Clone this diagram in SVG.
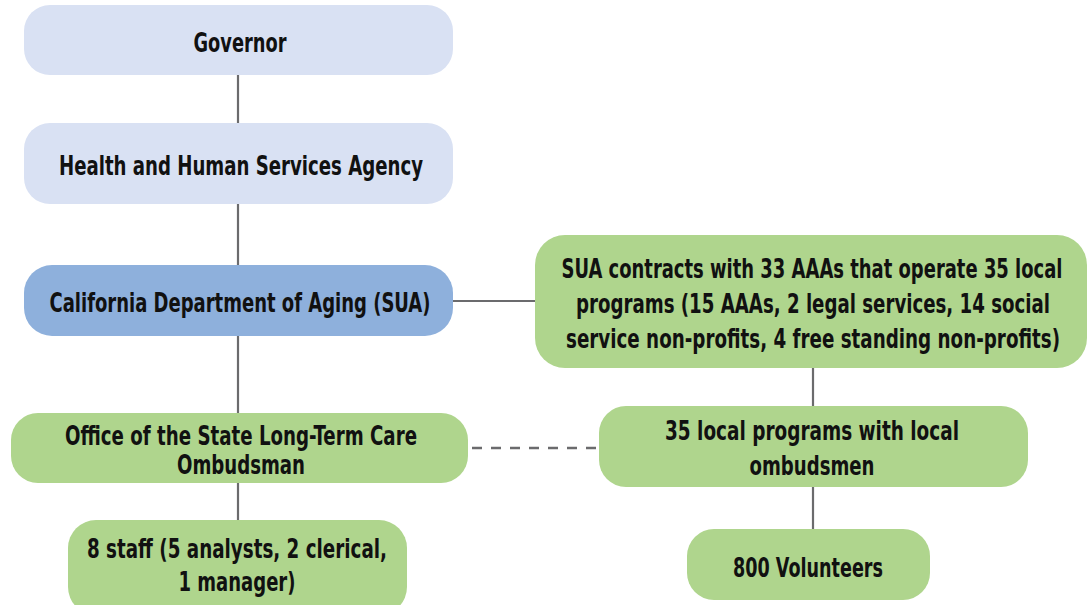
<svg xmlns="http://www.w3.org/2000/svg" width="1088" height="605" viewBox="0 0 1088 605">
<style>
.lb{fill:#d9e1f3}
.db{fill:#8eb0dc}
.gr{fill:#afd58d}
.t{font-family:"Liberation Sans Narrow","DejaVu Sans Condensed","Liberation Sans",sans-serif;font-stretch:condensed;font-weight:bold;font-size:26px;fill:#111;text-anchor:middle}
.c{stroke:#6b6b6d;stroke-width:2.2;fill:none}
.d{stroke:#6b6b6d;stroke-width:2.5;fill:none;stroke-dasharray:10 9}
</style>
<rect width="1088" height="605" fill="#fff"/>
<g id="connectors">
<line class="c" x1="238" y1="75" x2="238" y2="123"/>
<line class="c" x1="238" y1="204" x2="238" y2="265"/>
<line class="c" x1="238" y1="336" x2="238" y2="413"/>
<line class="c" x1="238" y1="483" x2="238" y2="520"/>
<line class="c" x1="453" y1="301" x2="535" y2="301"/>
<line class="c" x1="813" y1="368" x2="813" y2="406"/>
<line class="c" x1="813" y1="487" x2="813" y2="529"/>
<line class="d" x1="472" y1="448" x2="596" y2="448"/>
</g>
<g id="governor">
<rect class="lb" x="24" y="5" width="429" height="70" rx="26"/>
<text class="t" x="240" y="52" textLength="93" lengthAdjust="spacingAndGlyphs">Governor</text>
</g>
<g id="hhs">
<rect class="lb" x="24" y="123" width="429" height="81" rx="26"/>
<text class="t" x="241" y="175" textLength="364" lengthAdjust="spacingAndGlyphs">Health and Human Services Agency</text>
</g>
<g id="cda">
<rect class="db" x="24" y="265" width="429" height="71" rx="28"/>
<text class="t" x="240" y="312" textLength="381" lengthAdjust="spacingAndGlyphs">California Department of Aging (SUA)</text>
</g>
<g id="office">
<rect class="gr" x="11" y="413" width="457" height="70" rx="27"/>
<text class="t" x="241" y="445" textLength="352" lengthAdjust="spacingAndGlyphs">Office of the State Long-Term Care</text>
<text class="t" x="241" y="474" textLength="128" lengthAdjust="spacingAndGlyphs">Ombudsman</text>
</g>
<g id="staff">
<rect class="gr" x="68" y="520" width="339" height="95" rx="28"/>
<text class="t" x="237" y="558" textLength="300" lengthAdjust="spacingAndGlyphs">8 staff (5 analysts, 2 clerical,</text>
<text class="t" x="237" y="591" textLength="117" lengthAdjust="spacingAndGlyphs">1 manager)</text>
</g>
<g id="sua">
<rect class="gr" x="535" y="235" width="552" height="133" rx="30"/>
<text class="t" x="812" y="278" textLength="501" lengthAdjust="spacingAndGlyphs">SUA contracts with 33 AAAs that operate 35 local</text>
<text class="t" x="813" y="313" textLength="474" lengthAdjust="spacingAndGlyphs">programs (15 AAAs, 2 legal services, 14 social</text>
<text class="t" x="813" y="348" textLength="494" lengthAdjust="spacingAndGlyphs">service non-profits, 4 free standing non-profits)</text>
</g>
<g id="local">
<rect class="gr" x="599" y="406" width="429" height="81" rx="27"/>
<text class="t" x="812" y="440" textLength="294" lengthAdjust="spacingAndGlyphs">35 local programs with local</text>
<text class="t" x="812" y="475" textLength="125" lengthAdjust="spacingAndGlyphs">ombudsmen</text>
</g>
<g id="volunteers">
<rect class="gr" x="687" y="529" width="243" height="71" rx="27"/>
<text class="t" x="808" y="577" textLength="150" lengthAdjust="spacingAndGlyphs">800 Volunteers</text>
</g>
</svg>
